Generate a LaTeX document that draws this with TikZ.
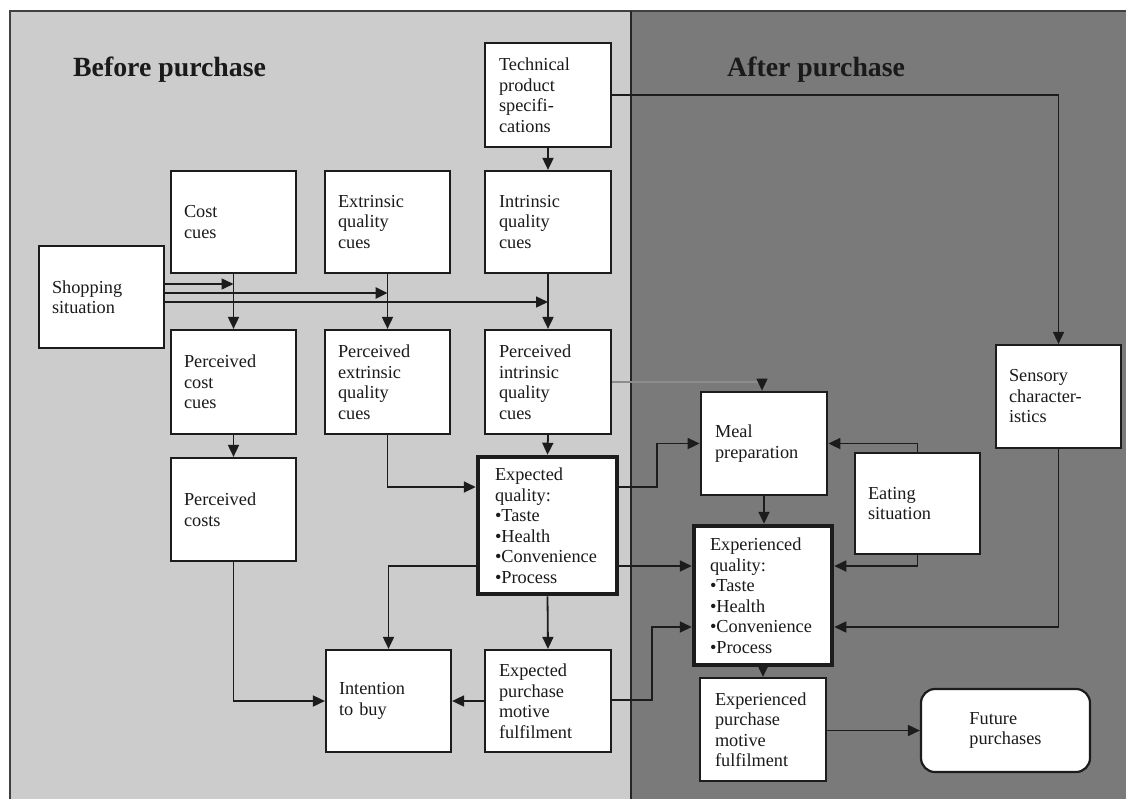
\documentclass[tikz,border=0pt]{standalone}
\usepackage{fontspec}
\setmainfont{Liberation Serif}
\usetikzlibrary{arrows.meta}
\definecolor{lightbg}{RGB}{204,204,204}
\definecolor{darkbg}{RGB}{122,122,122}
\definecolor{edge}{RGB}{28,28,28}
\definecolor{ink}{RGB}{26,26,26}
\begin{document}
\begin{tikzpicture}[x=1pt,y=-1pt,
  box/.style={draw=edge, line width=2.2pt, fill=white, align=left, inner xsep=13pt, inner ysep=0pt,
    font=\fontsize{18.3}{20.5}\selectfont, text=ink},
  thickbox/.style={box, line width=4.5pt},
  arr/.style={draw=edge, line width=1.8pt, -{Triangle[length=12pt,width=11pt]}},
  title/.style={font=\fontsize{27.8}{30}\selectfont\bfseries, anchor=base west, inner sep=0pt, text=ink}]
\useasboundingbox (0,0) rectangle (1126,798);
\clip (0,0) rectangle (1126,798);
% background panels
\fill[white] (0,0) rectangle (1126,798);
\fill[lightbg] (10,11) rectangle (631,810);
\fill[darkbg] (631,11) rectangle (1140,810);
\draw[line width=2.4pt, draw=black!75] (10,810) -- (10,11) -- (1140,11);
\draw[line width=2.4pt, draw=black!85] (631,11) -- (631,810);
% titles
\node[title] (tb) at (73,76) {Before purchase};
\node[title] (ta) at (727,76) {After purchase};
% boxes
\node[box, text width=98pt, inner xsep=14pt, minimum height=104pt] (tech) at (548,95) {Technical\\product\\specifi-\\cations};
\node[box, text width=98pt, inner xsep=14pt, minimum height=102pt] (intr) at (548,222) {Intrinsic\\quality\\cues};
\node[box, text width=99pt, minimum height=102pt] (cost) at (233.5,222) {Cost\\cues};
\node[box, text width=99pt, minimum height=102pt] (extr) at (387.5,222) {Extrinsic\\quality\\cues};
\node[box, text width=99pt, minimum height=102pt] (shop) at (101.5,297) {Shopping\\situation};
\node[box, text width=99pt, minimum height=104pt] (pcost) at (233.5,382) {Perceived\\cost\\cues};
\node[box, text width=99pt, minimum height=104pt] (pextr) at (387.5,382) {Perceived\\extrinsic\\quality\\cues};
\node[box, text width=98pt, inner xsep=14pt, minimum height=104pt] (pintr) at (548,382) {Perceived\\intrinsic\\quality\\cues};
\node[box, text width=99pt, minimum height=103pt] (pcosts) at (233.5,509.5) {Perceived\\costs};
\node[thickbox, text width=105pt, inner xsep=17pt, minimum height=137pt] (expq) at (547.5,525.5) {Expected\\quality:\\•Taste\\•Health\\•Convenience\\•Process};
\node[box, text width=99pt, minimum height=102pt] (intent) at (388.5,701) {Intention\\to buy};
\node[box, text width=98pt, inner xsep=14pt, minimum height=102pt] (exppm) at (548,701) {Expected\\purchase\\motive\\fulfilment};
\node[box, line width=2.8pt, text width=98pt, inner xsep=14pt, minimum height=103pt] (meal) at (764,443.5) {Meal\\preparation};
\node[box, text width=99pt, minimum height=101pt] (eat) at (917.5,503.5) {Eating\\situation};
\node[box, text width=99pt, minimum height=103pt] (sens) at (1058.5,396.5) {Sensory\\character-\\istics};
\node[thickbox, text width=106pt, inner xsep=16pt, minimum height=139pt] (expx) at (763,595.5) {Experienced\\quality:\\•Taste\\•Health\\•Convenience\\•Process};
\node[box, text width=96pt, inner xsep=15pt, minimum height=103pt] (expxpm) at (763,729.5) {Experienced\\purchase\\motive\\fulfilment};
\node[box, rounded corners=14pt, minimum width=169pt, minimum height=83pt] (future) at (1005.5,730.5) {Future\\purchases};
% connectors
\draw[arr] (tech.south) -- (intr.north);
\draw[arr, line width=1.5pt] (tech.east) -- (sens.north |- tech.east) -- (sens.north);
\draw[arr] (cost.south) -- (pcost.north);
\draw[arr] (extr.south) -- (pextr.north);
\draw[arr] (intr.south) -- (pintr.north);
\draw[arr, line width=1.5pt] (shop.east |- 0,284) -- (cost.south |- 0,284);
\draw[arr, line width=2.6pt] (shop.east |- 0,293) -- (extr.south |- 0,293);
\draw[arr, line width=1.5pt] (shop.east |- 0,302) -- (intr.south |- 0,302);
\draw[arr] (pcost.south) -- (pcosts.north);
\draw[arr] (pintr.south) -- (expq.north);
\draw[arr] (pextr.south) -- (pextr.south |- 0,487) -- (expq.west |- 0,487);
\draw[line width=1.1pt, draw=black!45, -{Triangle[length=12pt,width=11pt,color=edge]}] (pintr.east) -- (762,382) -- (meal.north -| 762,0);
\draw[arr] (expq.east |- 0,487) -- (657,487) -- (657,443.5) -- (meal.west);
\draw[arr] (expq.east |- 0,566) -- (expx.west |- 0,566);
\draw[arr] (expq.west |- 0,566) -- (intent.north |- 0,566) -- (intent.north);
\draw[arr] (expq.south) -- (exppm.north);
\draw[arr] (pcosts.south) -- (pcosts.south |- intent.west) -- (intent.west);
\draw[arr] (exppm.west) -- (intent.east);
\draw[arr] (exppm.east |- 0,700) -- (652,700) -- (652,627) -- (expx.west |- 0,627);
\draw[arr] (meal.south) -- (meal.south |- expx.north);
\draw[arr] (eat.north) -- (eat.north |- 0,443.5) -- (meal.east);
\draw[arr] (eat.south) -- (eat.south |- 0,566) -- (expx.east |- 0,566);
\draw[arr, line width=1.5pt] (sens.south) -- (sens.south |- 0,627) -- (expx.east |- 0,627);
\draw[arr] (expx.south) -- (expxpm.north);
\draw[arr] (expxpm.east |- future.west) -- (future.west);
\end{tikzpicture}
\end{document}
